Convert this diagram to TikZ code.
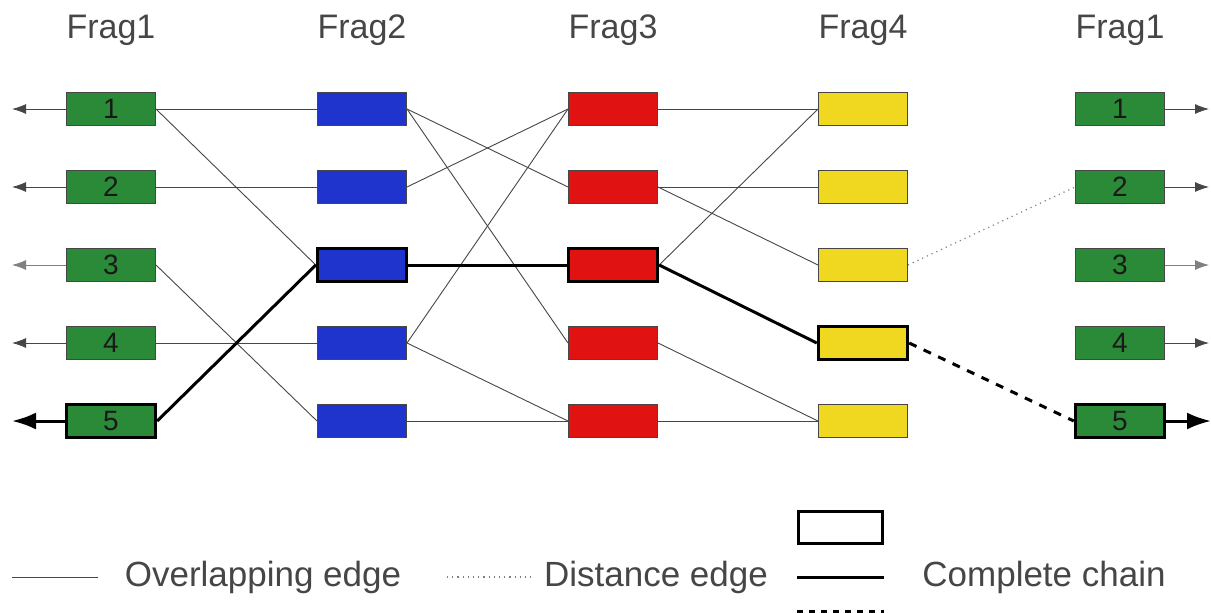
\documentclass[tikz,border=0pt]{standalone}
\usepackage{fontspec}
\setmainfont{Liberation Sans}
\usetikzlibrary{arrows.meta}
\definecolor{fragGreen}{RGB}{42,138,56}
\definecolor{fragBlue}{RGB}{30,52,204}
\definecolor{fragRed}{RGB}{224,18,18}
\definecolor{fragYellow}{RGB}{240,216,32}
\definecolor{fragText}{RGB}{70,70,70}
\definecolor{edgeGray}{RGB}{70,70,70}

\begin{document}
\begin{tikzpicture}[x=0.5pt,y=-0.5pt,
  frag/.style={draw=edgeGray, line width=0.5pt, minimum width=44.5pt, minimum height=16.5pt, inner sep=0pt, font=\fontsize{14}{14}\selectfont, text=black!90},
  chain/.style={draw=black, line width=1.7pt},
  head/.style={font=\fontsize{17}{20}\selectfont, text=fragText},
  legend/.style={font=\fontsize{17.5}{20}\selectfont, text=fragText},
  overlap/.style={draw=edgeGray, line width=0.45pt},
  farlink/.style={draw=gray, line width=0.6pt, dotted},
  link/.style={draw=black, line width=1.5pt},
  gap/.style={draw=black, line width=1.5pt, dash pattern=on 4pt off 4pt},
  tip/.style={-{Latex[length=7pt,width=5pt]}},
  bigtip/.style={-{Latex[length=12pt,width=8.5pt]}}
]
\useasboundingbox (0,0) rectangle (1211,612);

% column titles
\node[head] (t1) at (111,30) {Frag1};
\node[head] (t2) at (362,30) {Frag2};
\node[head] (t3) at (613,30) {Frag3};
\node[head] (t4) at (863,30) {Frag4};
\node[head] (t5) at (1120,30) {Frag1};

% fragments
\node[frag, fill=fragGreen] (g1) at (111,109) {1};
\node[frag, fill=fragGreen] (g2) at (111,187) {2};
\node[frag, fill=fragGreen] (g3) at (111,265) {3};
\node[frag, fill=fragGreen] (g4) at (111,343) {4};
\node[frag, fill=fragGreen, chain] (g5) at (111,421) {5};

\node[frag, fill=fragBlue] (b1) at (362,109) {};
\node[frag, fill=fragBlue] (b2) at (362,187) {};
\node[frag, fill=fragBlue, chain] (b3) at (362,265) {};
\node[frag, fill=fragBlue] (b4) at (362,343) {};
\node[frag, fill=fragBlue] (b5) at (362,421) {};

\node[frag, fill=fragRed] (r1) at (613,109) {};
\node[frag, fill=fragRed] (r2) at (613,187) {};
\node[frag, fill=fragRed, chain] (r3) at (613,265) {};
\node[frag, fill=fragRed] (r4) at (613,343) {};
\node[frag, fill=fragRed] (r5) at (613,421) {};

\node[frag, fill=fragYellow] (y1) at (863,109) {};
\node[frag, fill=fragYellow] (y2) at (863,187) {};
\node[frag, fill=fragYellow] (y3) at (863,265) {};
\node[frag, fill=fragYellow, chain] (y4) at (863,343) {};
\node[frag, fill=fragYellow] (y5) at (863,421) {};

\node[frag, fill=fragGreen] (h1) at (1120,109) {1};
\node[frag, fill=fragGreen] (h2) at (1120,187) {2};
\node[frag, fill=fragGreen] (h3) at (1120,265) {3};
\node[frag, fill=fragGreen] (h4) at (1120,343) {4};
\node[frag, fill=fragGreen, chain] (h5) at (1120,421) {5};

% arrow ends
\coordinate (l1) at (12,109);
\coordinate (l2) at (12,187);
\coordinate (l3) at (12,265);
\coordinate (l4) at (12,343);
\coordinate (l5) at (12,421);
\coordinate (e1) at (1209,109);
\coordinate (e2) at (1209,187);
\coordinate (e3) at (1209,265);
\coordinate (e4) at (1209,343);
\coordinate (e5) at (1211,421);

% edges
\draw[overlap] (g1.east) -- (b1.west);
\draw[overlap] (g1.east) -- (b3.west);
\draw[overlap] (g2.east) -- (b2.west);
\draw[overlap] (g3.east) -- (b5.west);
\draw[overlap] (g4.east) -- (b4.west);
\draw[overlap] (b1.east) -- (r2.west);
\draw[overlap] (b1.east) -- (r4.west);
\draw[overlap] (b2.east) -- (r1.west);
\draw[overlap] (b4.east) -- (r1.west);
\draw[overlap] (b4.east) -- (r5.west);
\draw[overlap] (b5.east) -- (r5.west);
\draw[overlap] (r1.east) -- (y1.west);
\draw[overlap] (r2.east) -- (y2.west);
\draw[overlap] (r2.east) -- (y3.west);
\draw[overlap] (r3.east) -- (y1.west);
\draw[overlap] (r4.east) -- (y5.west);
\draw[overlap] (r5.east) -- (y5.west);
\draw[farlink] (y3.east) -- (h2.west);

% complete chain
\draw[link] (g5.east) -- (b3.west);
\draw[link] (b3.east) -- (r3.west);
\draw[link] (r3.east) -- (y4.west);
\draw[gap] (y4.east) -- (h5.west);

\draw[overlap, tip] (g1.west) -- (l1);
\draw[overlap, tip] (g2.west) -- (l2);
\draw[overlap, tip, draw=gray] (g3.west) -- (l3);
\draw[overlap, tip] (g4.west) -- (l4);
\draw[link, bigtip] (g5.west) -- (l5);
\draw[overlap, tip] (h1.east) -- (e1);
\draw[overlap, tip] (h2.east) -- (e2);
\draw[overlap, tip, draw=gray] (h3.east) -- (e3);
\draw[overlap, tip] (h4.east) -- (e4);
\draw[link, bigtip] (h5.east) -- (e5);

% legend
\coordinate (k1) at (12,577);
\coordinate (k2) at (98,577);
\node[legend] (kover) at (263,577) {Overlapping edge};
\coordinate (k3) at (447,577);
\coordinate (k4) at (533,577);
\node[legend] (kdist) at (656,577) {Distance edge};
\node[chain, fill=white, minimum width=42pt, minimum height=16pt, inner sep=0pt] (kbox) at (840.5,527.5) {};
\coordinate (k5) at (797,577);
\coordinate (k6) at (884,577);
\coordinate (k7) at (797,611);
\coordinate (k8) at (884,611);
\node[legend] (kchain) at (1044,577) {Complete chain};
\draw[overlap] (k1) -- (k2);
\draw[farlink] (k3) -- (k4);
\draw[link] (k5) -- (k6);
\draw[gap, dash pattern=on 3pt off 3pt] (k7) -- (k8);
\end{tikzpicture}
\end{document}
